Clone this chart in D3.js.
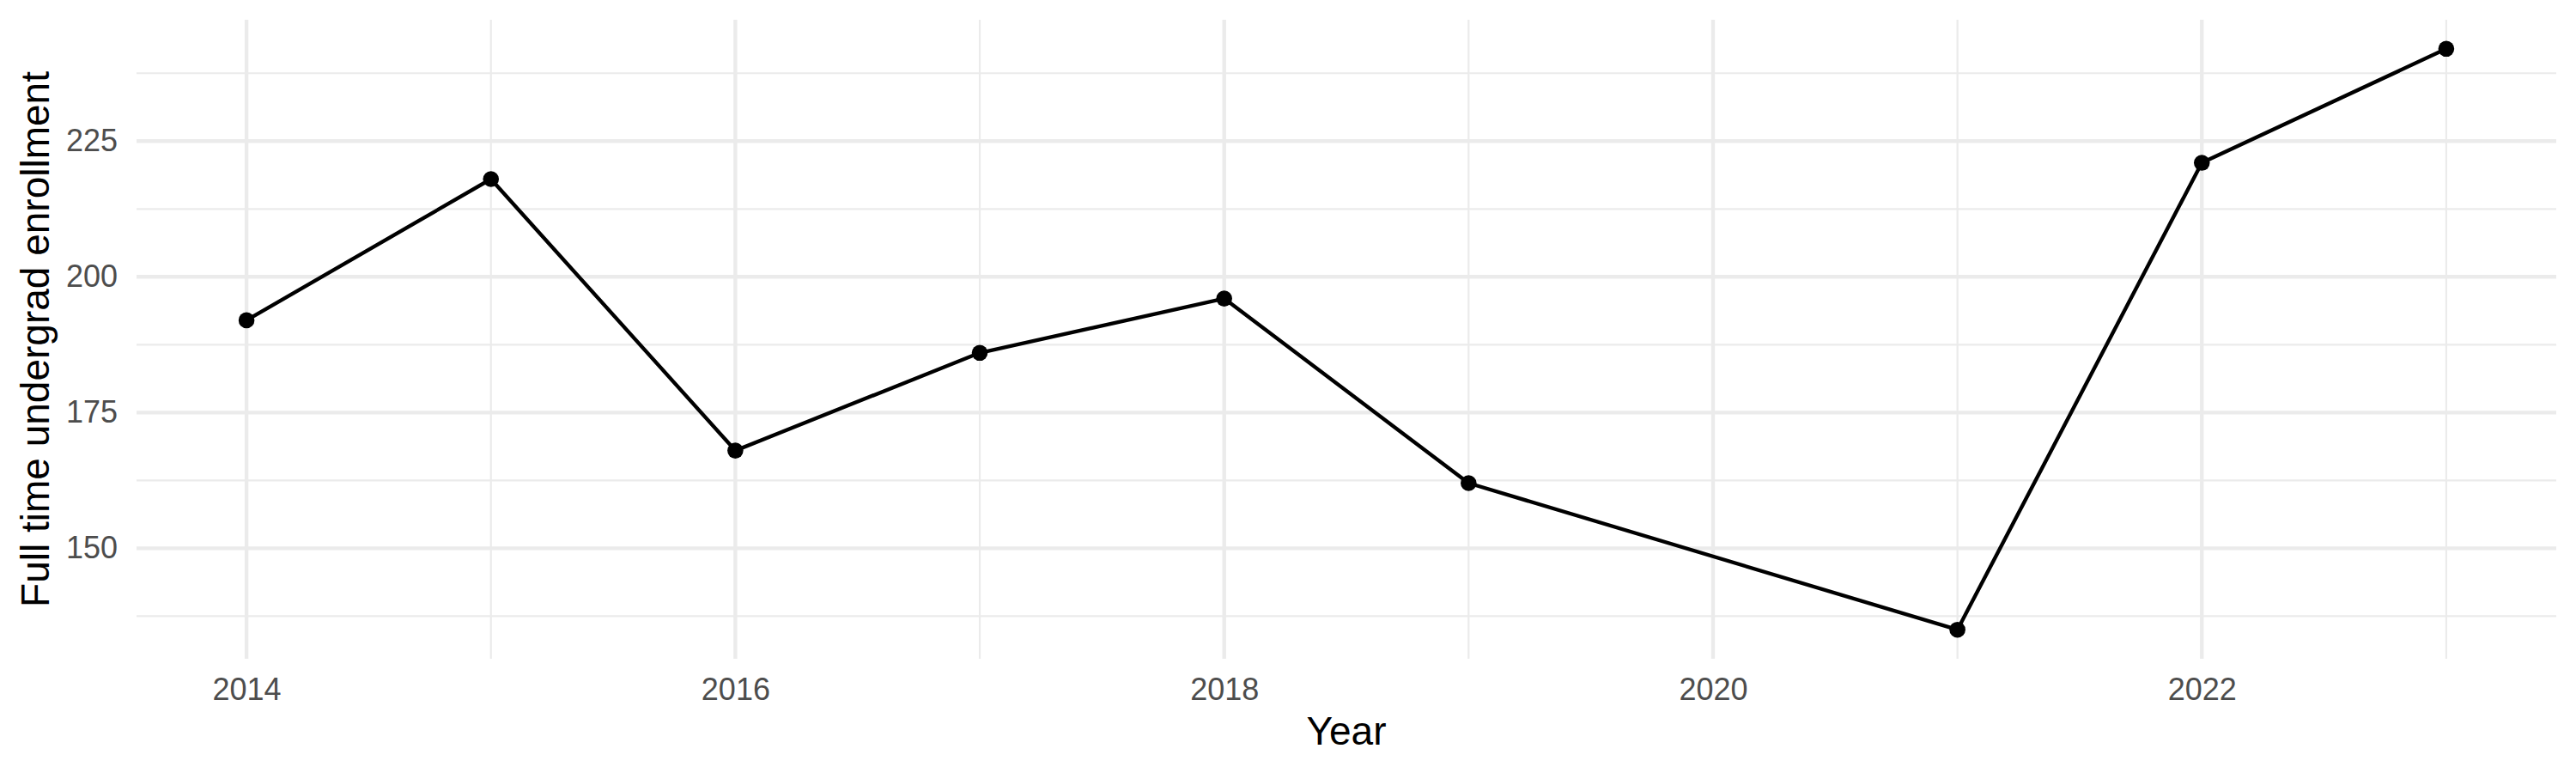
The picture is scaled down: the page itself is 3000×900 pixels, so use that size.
<!DOCTYPE html>
<html>
<head>
<meta charset="utf-8">
<script src="https://cdn.jsdelivr.net/npm/d3@7"></script>
<style>
  body { margin: 0; background: #fff; }
  text { font-family: "Liberation Sans", Arial, Helvetica, sans-serif; }
</style>
</head>
<body>
<div id="chart"></div>
<script>
// enrollment by year
var years = [2014, 2015, 2016, 2017, 2018, 2019, 2021, 2022, 2023];
var enrollment = [192, 218, 168, 186, 196, 162, 135, 221, 242];

var xMajor = [2014, 2016, 2018, 2020, 2022];
var xMinor = [2015, 2017, 2019, 2021, 2023];
var yMajor = [150, 175, 200, 225];
var yMinor = [137.5, 162.5, 187.5, 212.5, 237.5];

var xTitle = "Year";
var yTitle = "Full time undergrad enrollment";

var draw_chart = function() {
    var total_width = 3000, total_height = 900;
    var margin = {top: 23, right: 23, bottom: 133, left: 159};
    var width = total_width - margin.left - margin.right,
        height = total_height - margin.top - margin.bottom;

    var svg = d3.select("#chart")
      .append("svg")
        .attr("width", total_width)
        .attr("height", total_height);

    var g = svg.append("g")
        .attr("transform", "translate(" + margin.left + "," + margin.top + ")");

    // ggplot style 5% expansion on both axes
    var xExt = d3.extent(years), xPad = (xExt[1] - xExt[0]) * 0.05;
    var yExt = d3.extent(enrollment), yPad = (yExt[1] - yExt[0]) * 0.05;

    var xScale = d3.scaleLinear().domain([xExt[0] - xPad, xExt[1] + xPad]).range([0, width]);
    var yScale = d3.scaleLinear().domain([yExt[0] - yPad, yExt[1] + yPad]).range([height, 0]);

    var gridColor = "#EBEBEB";

    // minor grid first, then major
    g.selectAll(".ygrid-minor").data(yMinor).enter().append("line")
        .attr("x1", 0).attr("x2", width)
        .attr("y1", function(d) { return yScale(d); })
        .attr("y2", function(d) { return yScale(d); })
        .attr("stroke", gridColor).attr("stroke-width", 2.2);

    g.selectAll(".xgrid-minor").data(xMinor).enter().append("line")
        .attr("y1", 0).attr("y2", height)
        .attr("x1", function(d) { return xScale(d); })
        .attr("x2", function(d) { return xScale(d); })
        .attr("stroke", gridColor).attr("stroke-width", 2.2);

    g.selectAll(".ygrid").data(yMajor).enter().append("line")
        .attr("x1", 0).attr("x2", width)
        .attr("y1", function(d) { return yScale(d); })
        .attr("y2", function(d) { return yScale(d); })
        .attr("stroke", gridColor).attr("stroke-width", 4.4);

    g.selectAll(".xgrid").data(xMajor).enter().append("line")
        .attr("y1", 0).attr("y2", height)
        .attr("x1", function(d) { return xScale(d); })
        .attr("x2", function(d) { return xScale(d); })
        .attr("stroke", gridColor).attr("stroke-width", 4.4);

    // axes: labels only, no domain or ticks (theme_minimal)
    var xAxis = g.append("g")
        .attr("transform", "translate(0," + height + ")")
        .call(d3.axisBottom(xScale).tickValues(xMajor).tickFormat(d3.format("d")).tickSize(0).tickPadding(22));
    xAxis.select(".domain").remove();
    xAxis.selectAll("text")
        .attr("font-size", 36)
        .attr("fill", "#4D4D4D")
        .style("font-family", "Liberation Sans, Arial, sans-serif");

    var yAxis = g.append("g")
        .call(d3.axisLeft(yScale).tickValues(yMajor).tickSize(0).tickPadding(22));
    yAxis.select(".domain").remove();
    yAxis.selectAll("text")
        .attr("font-size", 36)
        .attr("fill", "#4D4D4D")
        .style("font-family", "Liberation Sans, Arial, sans-serif");

    // line + points
    var line = d3.line()
        .x(function(d, i) { return xScale(years[i]); })
        .y(function(d) { return yScale(d); });

    g.append("path")
        .attr("d", line(enrollment))
        .attr("fill", "none")
        .attr("stroke", "#000")
        .attr("stroke-width", 4.4)
        .attr("stroke-linejoin", "round");

    g.selectAll(".pt").data(enrollment).enter().append("circle")
        .attr("cx", function(d, i) { return xScale(years[i]); })
        .attr("cy", function(d) { return yScale(d); })
        .attr("r", 9.3)
        .attr("fill", "#000");

    // titles
    svg.append("text")
        .attr("x", margin.left + width / 2)
        .attr("y", 867)
        .attr("text-anchor", "middle")
        .attr("font-size", 46)
        .attr("fill", "#000")
        .text(xTitle);

    svg.append("text")
        .attr("transform", "translate(57," + (margin.top + height / 2) + ") rotate(-90)")
        .attr("text-anchor", "middle")
        .attr("font-size", 46)
        .attr("fill", "#000")
        .text(yTitle);
};
draw_chart();
</script>
</body>
</html>
